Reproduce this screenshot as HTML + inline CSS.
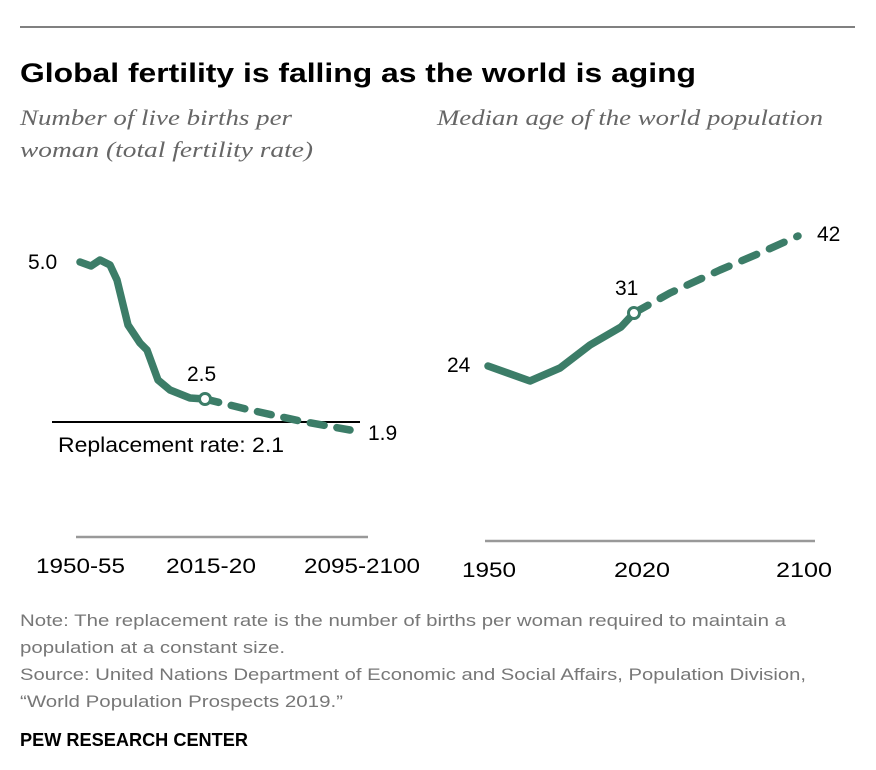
<!DOCTYPE html>
<html><head><meta charset="utf-8"><style>
body{margin:0;background:#fff;}
svg{display:block;font-family:"Liberation Sans",sans-serif;}
</style></head><body>
<svg width="876" height="770" viewBox="0 0 876 770" xmlns="http://www.w3.org/2000/svg">
<line x1="20" y1="27" x2="855" y2="27" stroke="#000" stroke-width="1"/>
<text x="20" y="82" font-size="27" font-weight="bold" fill="#000" textLength="676" lengthAdjust="spacingAndGlyphs">Global fertility is falling as the world is aging</text>
<g font-family="Liberation Serif,serif" font-style="italic" font-size="22" fill="#666">
<text x="20" y="125" textLength="272" lengthAdjust="spacingAndGlyphs">Number of live births per</text>
<text x="20" y="157" textLength="293" lengthAdjust="spacingAndGlyphs">woman (total fertility rate)</text>
<text x="437" y="125" textLength="386" lengthAdjust="spacingAndGlyphs">Median age of the world population</text>
</g>
<line x1="52" y1="422" x2="360" y2="422" stroke="#000" stroke-width="2"/>
<g fill="none" stroke="#3c7d68" stroke-width="7.5" stroke-linecap="round" stroke-linejoin="round">
<polyline points="80,262 91,266 100,260 110,265 117,280 128,325 140,343 147,350 158,380 170,390 190,398 205,399"/>
<polyline points="205,399 250,410 300,421 350,430" stroke-dasharray="14,13"/>
<polyline points="488,366 530,381 560,368 590,345 621,327 634,313"/>
<polyline points="634,313 670,293 720,270 760,253 798,236" stroke-dasharray="16,14"/>
</g>
<circle cx="205" cy="399" r="5.5" fill="#fff" stroke="#3c7d68" stroke-width="3"/>
<circle cx="634" cy="313" r="5.5" fill="#fff" stroke="#3c7d68" stroke-width="3"/>
<g font-size="21" fill="#000">
<text x="28" y="269">5.0</text>
<text x="187" y="381">2.5</text>
<text x="368" y="440">1.9</text>
<text x="58" y="452" textLength="226" lengthAdjust="spacingAndGlyphs">Replacement rate: 2.1</text>
<text x="447" y="372">24</text>
<text x="615" y="295">31</text>
<text x="817" y="241">42</text>
<text x="36" y="573" textLength="89" lengthAdjust="spacingAndGlyphs">1950-55</text>
<text x="166" y="573" textLength="90" lengthAdjust="spacingAndGlyphs">2015-20</text>
<text x="304" y="573" textLength="116" lengthAdjust="spacingAndGlyphs">2095-2100</text>
<text x="462" y="577" textLength="54" lengthAdjust="spacingAndGlyphs">1950</text>
<text x="614" y="577" textLength="56" lengthAdjust="spacingAndGlyphs">2020</text>
<text x="776" y="577" textLength="56" lengthAdjust="spacingAndGlyphs">2100</text>
</g>
<line x1="76" y1="537" x2="368" y2="537" stroke="#999" stroke-width="2.5"/>
<line x1="485" y1="541" x2="815" y2="541" stroke="#999" stroke-width="2.5"/>
<g font-size="17" fill="#777">
<text x="20" y="626" textLength="766" lengthAdjust="spacingAndGlyphs">Note: The replacement rate is the number of births per woman required to maintain a</text>
<text x="20" y="653" textLength="265" lengthAdjust="spacingAndGlyphs">population at a constant size.</text>
<text x="20" y="680" textLength="786" lengthAdjust="spacingAndGlyphs">Source: United Nations Department of Economic and Social Affairs, Population Division,</text>
<text x="20" y="707" textLength="323" lengthAdjust="spacingAndGlyphs">“World Population Prospects 2019.”</text>
</g>
<text x="20" y="746" font-size="18" font-weight="bold" fill="#000" textLength="228" lengthAdjust="spacingAndGlyphs">PEW RESEARCH CENTER</text>
</svg>
</body></html>
